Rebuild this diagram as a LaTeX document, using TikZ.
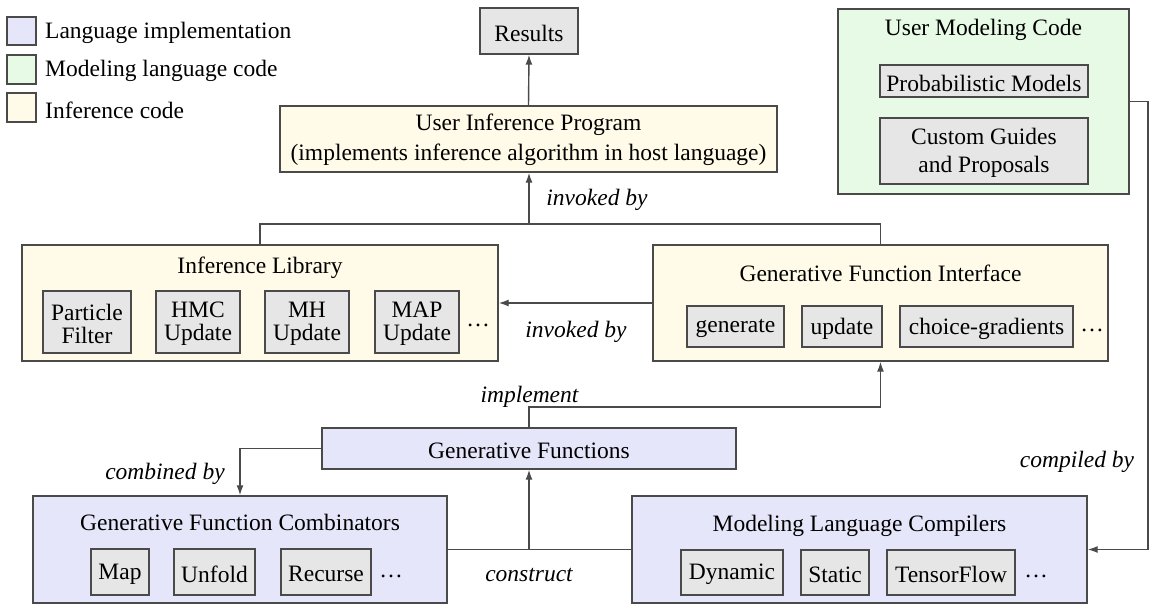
\documentclass[tikz,border=0pt]{standalone}
\usepackage{fontspec}
\setmainfont{Liberation Serif}
\usetikzlibrary{arrows.meta}
\definecolor{bcol}{HTML}{4A4A4A}
\definecolor{lav}{HTML}{E6E6FA}
\definecolor{mint}{HTML}{E6FAE6}
\definecolor{cream}{HTML}{FFFBE8}
\definecolor{gbox}{HTML}{E6E6E6}
% \mkbox{name}{style}{x}{y}{w}{h}{text}
\newcommand\mkbox[7]{%
  \node[#2, minimum width=#5pt, minimum height=#6pt] (#1) at (#3,#4) {};
  \node[txt] (#1t) at (#3,#4) {#7};}
\begin{document}
\begin{tikzpicture}[x=1pt,y=-1pt,
  font=\fontsize{23.5}{28}\selectfont,
  box/.style={draw=bcol, line width=1.4pt, inner sep=0pt},
  sub/.style={box, fill=gbox},
  txt/.style={inner sep=0pt, align=center, yshift=-2pt},
  two/.style={font=\fontsize{23.5}{23}\selectfont},
  arr/.style={draw=bcol, line width=1.4pt, -{Latex[length=10pt,width=7pt]}},
  ln/.style={draw=bcol, line width=1.4pt},
  lbl/.style={inner sep=0pt, yshift=-2.5pt, font=\fontsize{23.5}{28}\selectfont\itshape}]
\useasboundingbox (0,0) rectangle (1156,610);

% legend
\node[box, fill=lav,   minimum width=29pt, minimum height=28pt] (k1) at (21.5,31) {};
\node[txt, anchor=west] (k1t) at (45,31) {Language implementation};
\node[box, fill=mint,  minimum width=29pt, minimum height=29pt] (k2) at (21.5,69.5) {};
\node[txt, anchor=west] (k2t) at (45,69) {Modeling language code};
\node[box, fill=cream, minimum width=29pt, minimum height=29pt] (k3) at (21.5,107.5) {};
\node[txt, anchor=west] (k3t) at (45,108) {Inference code};

% top
\mkbox{res}{sub}{529}{31}{98}{46}{Results}
\node[box, fill=cream, minimum width=497pt, minimum height=66pt] (uip) at (528.5,139) {};
\node[txt, yshift=1pt, font=\fontsize{23.5}{30}\selectfont] (uipt) at (528.5,139) {User Inference Program\\(implements inference algorithm in host language)};

% user modeling code
\node[box, fill=mint, minimum width=291pt, minimum height=185pt] (umc) at (983.5,101.5) {};
\node[txt] (umct) at (983.5,28) {User Modeling Code};
\mkbox{pm}{sub}{984}{81}{208}{32}{Probabilistic Models}
\mkbox{cg}{sub}{984}{151}{208}{66}{Custom Guides\\and Proposals}

% inference library
\node[box, fill=cream, minimum width=476pt, minimum height=116pt] (il) at (260,303) {};
\node[txt] (ilt) at (260,266) {Inference Library};
\node[sub, minimum width=88pt, minimum height=62pt] (pf) at (87,322) {};
\node[txt, two] (pft) at (87,322) {Particle\\Filter};
\node[sub, minimum width=84pt, minimum height=62pt] (hmc) at (198,322) {};
\node[txt, two] (hmct) at (198,322) {HMC\\Update};
\node[sub, minimum width=84pt, minimum height=62pt] (mh) at (307,322) {};
\node[txt, two] (mht) at (307,322) {MH\\Update};
\node[sub, minimum width=84pt, minimum height=62pt] (mapu) at (417,322) {};
\node[txt, two] (mapt) at (417,322) {MAP\\Update};
\node[txt, anchor=base] (ild) at (478,324) {\dots};

% generative function interface
\node[box, fill=cream, minimum width=455pt, minimum height=116pt] (gfi) at (880.5,303) {};
\node[txt] (gfit) at (880.5,271) {Generative Function Interface};
\mkbox{gen}{sub}{735.5}{326.5}{97}{41}{generate}
\mkbox{upd}{sub}{842}{326.5}{80}{41}{update}
\mkbox{cgr}{sub}{986.5}{326.5}{173}{41}{choice-gradients}
\node[txt, anchor=base] (gfid) at (1092,329) {\dots};

% generative functions
\mkbox{gf}{box, fill=lav}{529}{448.5}{414}{41}{Generative Functions}

% combinators
\node[box, fill=lav, minimum width=414pt, minimum height=107pt] (gfc) at (240,549.5) {};
\node[txt] (gfct) at (240,520) {Generative Function Combinators};
\mkbox{mapc}{sub}{120}{572}{58}{46}{Map}
\mkbox{unf}{sub}{214.5}{572}{81}{46}{Unfold}
\mkbox{rec}{sub}{326}{572}{90}{46}{Recurse}
\node[txt, anchor=base] (gfcd) at (391,575) {\dots};

% compilers
\node[box, fill=lav, minimum width=455pt, minimum height=107pt] (mlc) at (859.5,549.5) {};
\node[txt] (mlct) at (859.5,524) {Modeling Language Compilers};
\mkbox{dyn}{sub}{732}{572.5}{102}{45}{Dynamic}
\mkbox{sta}{sub}{835}{572.5}{68}{45}{Static}
\mkbox{tf}{sub}{951}{572.5}{128}{45}{TensorFlow}
\node[txt, anchor=base] (mlcd) at (1036,575) {\dots};

% connectors
\coordinate (j1) at (529,224);
\coordinate (j2) at (880.5,407);
\coordinate (j4) at (1148,101.5);
\draw[arr] (uip.north) -- (res.south);
\draw[ln] (il.north) |- (j1) -| (gfi.north);
\draw[arr] (j1) -- (j1 |- uip.south);
\draw[arr] (gfi.west) -- (il.east);
\draw[arr] (gf.north) |- (j2) -- (gfi.south);
\draw[arr] (gf.west) -| (gfc.north);
\draw[ln] (gfc.east) -- (mlc.west);
\draw[arr] (gfc.east -| gf.south) -- (gf.south);
\draw[arr] (umc.east) -- (j4) |- (mlc.east);

% labels
\node[lbl] (l1) at (597,197) {invoked by};
\node[lbl] (l2) at (576,329) {invoked by};
\node[lbl] (l3) at (529.5,394) {implement};
\node[lbl] (l4) at (165,471) {combined by};
\node[lbl] (l5) at (529,573) {construct};
\node[lbl] (l6) at (1077,459) {compiled by};
\end{tikzpicture}
\end{document}
